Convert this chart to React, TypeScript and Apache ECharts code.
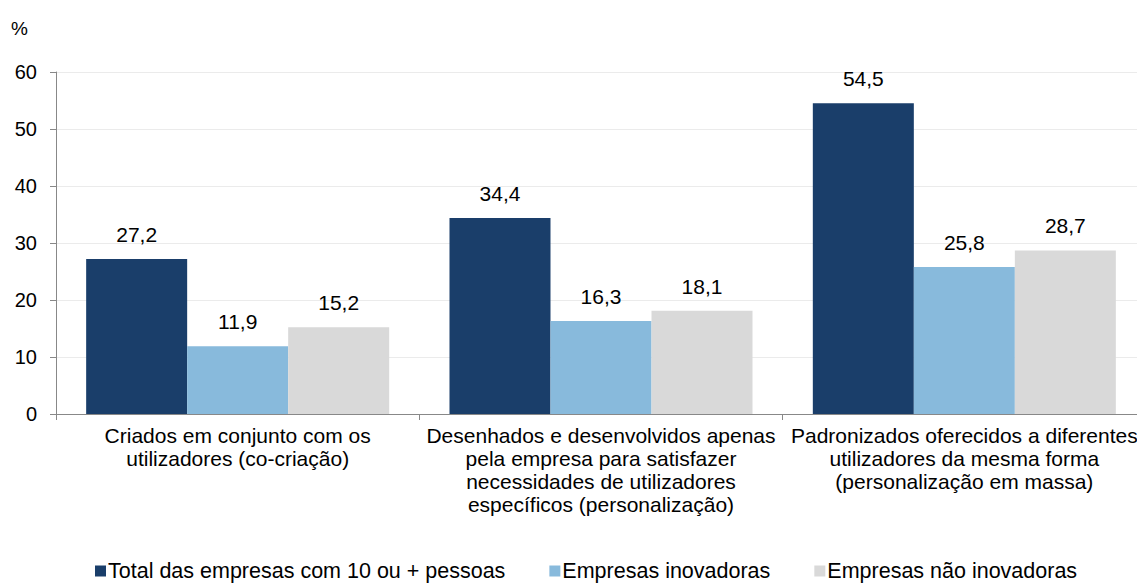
import React, { useEffect, useRef } from "react";
import * as echarts from "echarts";

const categories = [
  "Criados em conjunto com os\nutilizadores (co-criação)",
  "Desenhados e desenvolvidos apenas\npela empresa para satisfazer\nnecessidades de utilizadores\nespecíficos (personalização)",
  "Padronizados oferecidos a diferentes\nutilizadores da mesma forma\n(personalização em massa)",
];
const seriesNames = [
  "Total das empresas com 10 ou + pessoas",
  "Empresas inovadoras",
  "Empresas não inovadoras",
];
const totalValues = [27.2, 34.4, 54.5];
const inovadorasValues = [11.9, 16.3, 25.8];
const naoInovadorasValues = [15.2, 18.1, 28.7];
const colors = ["#1A3E6A", "#88BADC", "#D9D9D9"];

const FONT = "'Liberation Sans', Arial, sans-serif";

export default function App() {
  const ref = useRef<HTMLDivElement>(null);
  useEffect(() => {
    if (!ref.current) return;
    const chart = echarts.init(ref.current, undefined, { renderer: "svg" });
    const data = [totalValues, inovadorasValues, naoInovadorasValues];
    chart.setOption({
      animation: false,
      textStyle: { fontFamily: FONT, color: "#000" },
      grid: {
        left: 56,
        width: 1090,
        top: 72,
        bottom: 171,
        containLabel: false,
        outerBoundsMode: "none",
      },
      legend: {
        top: 555,
        left: 90,
        itemWidth: 11,
        itemHeight: 11,
        itemGap: 44,
        icon: "rect",
        textStyle: { fontSize: 21.5, color: "#000", fontFamily: FONT, padding: [0, 0, 0, -3] },
        data: seriesNames,
      },
      graphic: [
        {
          type: "text",
          left: 11,
          top: 19,
          style: { text: "%", fontSize: 19, fill: "#000", fontFamily: FONT },
        },
      ],
      xAxis: {
        type: "category",
        data: categories,
        axisLine: { show: true, lineStyle: { color: "#888888", width: 1 } },
        axisTick: { show: true, length: 6, lineStyle: { color: "#888888" } },
        axisLabel: {
          fontSize: 21,
          color: "#000",
          fontFamily: FONT,
          lineHeight: 23,
          margin: 10,
          interval: 0,
        },
      },
      yAxis: {
        type: "value",
        min: 0,
        max: 60,
        interval: 10,
        axisLine: { show: true, lineStyle: { color: "#888888", width: 1 } },
        axisTick: { show: true, length: 6, lineStyle: { color: "#888888" } },
        axisLabel: { fontSize: 20, color: "#000", fontFamily: FONT, margin: 19 },
        splitLine: { show: true, lineStyle: { color: "#EBEBEB", width: 1 } },
      },
      series: seriesNames.map((name, i) => ({
        name,
        type: "bar",
        data: data[i],
        barGap: "0%",
        barCategoryGap: "16.6%",
        itemStyle: { color: colors[i] },
        label: {
          show: true,
          position: "top",
          distance: 14,
          fontSize: 21,
          color: "#000",
          fontFamily: FONT,
          formatter: (p: any) => p.value.toFixed(1).replace(".", ","),
        },
      })),
    });
    return () => chart.dispose();
  }, []);
  return (
    <div
      ref={ref}
      style={{ position: "fixed", left: 0, top: 0, width: 1137, height: 585, background: "#fff" }}
    />
  );
}
